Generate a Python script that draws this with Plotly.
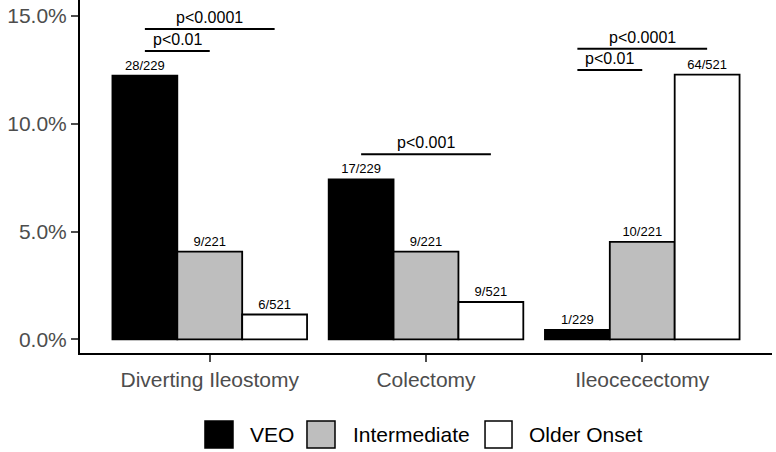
import plotly.graph_objects as go

categories = ["Diverting Ileostomy", "Colectomy", "Ileocecectomy"]
groups = ["VEO", "Intermediate", "Older Onset"]
veo_pct = [12.23, 7.42, 0.44]
intermediate_pct = [4.07, 4.07, 4.52]
older_pct = [1.15, 1.73, 12.28]
veo_labels = ["28/229", "17/229", "1/229"]
intermediate_labels = ["9/221", "9/221", "10/221"]
older_labels = ["6/521", "9/521", "64/521"]
y_ticks = [0, 5, 10, 15]

# significance comparisons: (category index, group a, group b, label)
comparisons = [
    (0, 0, 1, "p<0.01"),
    (0, 0, 2, "p<0.0001"),
    (1, 0, 2, "p<0.001"),
    (2, 0, 1, "p<0.01"),
    (2, 0, 2, "p<0.0001"),
]
bracket_heights = [13.37, 14.39, 8.59, 12.49, 13.48]

colors = ["#000000", "#BEBEBE", "#FFFFFF"]
FONT = "Liberation Sans, Arial, Helvetica, sans-serif"

fig = go.Figure()
series = [veo_pct, intermediate_pct, older_pct]
labels = [veo_labels, intermediate_labels, older_labels]
for g, vals, lab, col in zip(groups, series, labels, colors):
    fig.add_trace(go.Bar(
        name=g, x=categories, y=vals, text=lab,
        textposition="outside", textangle=0,
        textfont=dict(size=13, color="black", family=FONT),
        marker=dict(color=col, line=dict(color="black", width=1.8)),
        cliponaxis=False, showlegend=False,
    ))

bar_w = 0.3
offsets = [-bar_w, 0, bar_w]
for (ci, a, b, lab), h in zip(comparisons, bracket_heights):
    x0 = ci + offsets[a]
    x1 = ci + offsets[b]
    fig.add_shape(type="line", xref="x", yref="y", x0=x0, x1=x1, y0=h, y1=h,
                  line=dict(color="black", width=2))
    fig.add_annotation(x=(x0 + x1) / 2, y=h, xref="x", yref="y", text=lab,
                       showarrow=False, yanchor="bottom", yshift=1,
                       font=dict(size=16, color="black", family=FONT))

# custom legend
leg_boxes = [(0.1806, 0.2211), (0.3280, 0.3685), (0.5853, 0.6243)]
leg_text_x = [0.2428, 0.3916, 0.6460]
for g, col, (bx0, bx1), tx in zip(groups, colors, leg_boxes, leg_text_x):
    fig.add_shape(type="rect", xref="paper", yref="paper", x0=bx0, x1=bx1,
                  y0=-0.2691, y1=-0.1926, fillcolor=col,
                  line=dict(color="black", width=1.5))
    fig.add_annotation(x=tx, y=-0.2309, xref="paper", yref="paper", text=g,
                       showarrow=False, xanchor="left", yanchor="middle",
                       font=dict(size=21, color="black", family=FONT))

fig.update_layout(
    width=776, height=452,
    margin=dict(l=80, r=4, t=0, b=99, autoexpand=False),
    plot_bgcolor="white", paper_bgcolor="white",
    barmode="group", bargap=0.1, bargroupgap=0,
    font=dict(family=FONT),
)
fig.update_xaxes(
    range=[-0.6, 2.6], showline=True, linecolor="black", linewidth=2,
    ticks="outside", ticklen=7, tickwidth=2, tickcolor="#4D4D4D",
    tickfont=dict(size=21, color="#4D4D4D", family=FONT),
    showgrid=False, zeroline=False, automargin=False,
)
fig.update_yaxes(
    range=[-0.635, 15.74], tickvals=y_ticks,
    ticktext=[f"{v:.1f}%" for v in y_ticks],
    showline=True, linecolor="black", linewidth=2,
    ticks="outside", ticklen=7, tickwidth=2, tickcolor="#4D4D4D",
    tickfont=dict(size=21, color="#4D4D4D", family=FONT),
    showgrid=False, zeroline=False, automargin=False,
)

fig.write_html("out.html",
               config={"displayModeBar": False},
               post_script="document.body.style.margin='0px';document.body.style.overflow='hidden';")
